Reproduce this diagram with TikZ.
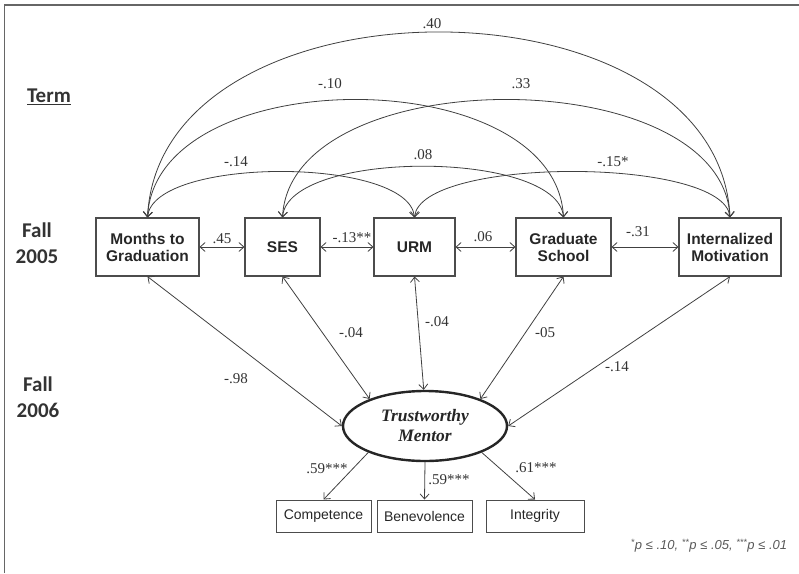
\documentclass[tikz,border=0pt]{standalone}
\usepackage{fontspec}
\setmainfont{Liberation Serif}
\newfontfamily\arialfont{Liberation Sans}
\newfontfamily\calibrifont{Carlito}
\usepackage{tikz}
\usetikzlibrary{shapes.geometric,arrows.meta}

\begin{document}
\begin{tikzpicture}[x=1pt,y=-1pt,>={Straight Barb[length=5pt,width=9pt]},
    var/.style={draw=black!70,line width=1.1pt,minimum height=58pt,inner sep=0pt,align=center,
      font=\arialfont\bfseries\fontsize{15.5}{17}\selectfont,text=black!85},
    ind/.style={draw=black!70,line width=1pt,minimum height=32pt,inner sep=0pt,
      font=\arialfont\fontsize{14}{16}\selectfont,text=black!85},
    coef/.style={inner sep=0pt,font=\fontsize{15}{17}\selectfont,text=black!80},
    term/.style={align=center,font=\calibrifont\bfseries\fontsize{21}{25.5}\selectfont,text=black!80},
    cov/.style={draw=black!75,line width=0.8pt,<->},
    load/.style={draw=black!75,line width=0.8pt,->}]
    \useasboundingbox (0,0) rectangle (799,573);
    \draw[black!60,line width=1.5pt] (4.5,573) -- (4.5,5) -- (799,5);

    % terms
    \node[term] (term) at (49,97) {\underline{Term}};
    \node[term] (fall5) at (37,243) {Fall\\2005};
    \node[term] (fall6) at (38,397) {Fall\\2006};

    % observed variables, fall 2005
    \node[var,minimum width=103pt] (mg) at (147.5,247) {Months to\\Graduation};
    \node[var,minimum width=75pt] (ses) at (282.5,247) {SES};
    \node[var,minimum width=81pt] (urm) at (414.5,247) {URM};
    \node[var,minimum width=95pt] (gs) at (563.5,247) {Graduate\\School};
    \node[var,minimum width=102pt] (im) at (730,247) {Internalized\\Motivation};

    % latent factor and indicators
    \node[ellipse,draw=black!85,line width=2.4pt,minimum width=164pt,minimum height=70pt,inner sep=0pt,
      align=center,font=\bfseries\itshape\fontsize{17.5}{20}\selectfont,text=black!85] (tm) at (425,426) {Trustworthy\\Mentor};
    \node[ind,minimum width=95pt] (comp) at (323.5,516) {Competence};
    \node[ind,minimum width=95pt] (benev) at (424.5,516) {Benevolence};
    \node[ind,minimum width=98pt] (integ) at (535,516) {Integrity};

    % covariances
    \draw[cov] (mg.north) .. controls +(12,-247) and +(-12,-247) .. (im.north);
    \draw[cov] (mg.north) .. controls +(8,-157) and +(-8,-157) .. (gs.north);
    \draw[cov] (ses.north) .. controls +(8,-157) and +(-8,-157) .. (im.north);
    \draw[cov] (mg.north) .. controls +(6,-61) and +(-6,-61) .. (urm.north);
    \draw[cov] (ses.north) .. controls +(6,-68) and +(-6,-68) .. (gs.north);
    \draw[cov] (urm.north) .. controls +(6,-61) and +(-6,-61) .. (im.north);
    \foreach \a/\b in {mg/ses,ses/urm,urm/gs,gs/im}
    \draw[cov] (\a.east) -- (\b.west);

    % paths to the factor
    \draw[cov] (mg.south) -- (tm.west);
    \draw[cov] (ses.south) -- (tm.154);
    \draw[cov] (urm.south) -- (tm.92);
    \draw[cov] (gs.south) -- (tm.26);
    \draw[cov] (im.south) -- (tm.east);
    \draw[load] (tm.205) -- (comp.north);
    \draw[load] (tm.south) -- (benev.north);
    \draw[load] (tm.-25) -- (integ.north);

    % coefficients
    \node[coef] (c40) at (432,24) {.40};
    \node[coef] (c10) at (330,84) {-.10};
    \node[coef] (c33) at (521,84) {.33};
    \node[coef] (c14a) at (236,162) {-.14};
    \node[coef] (c08) at (423,155) {.08};
    \node[coef] (c15) at (613,162) {-.15*};
    \node[coef] (c45) at (222,239) {.45};
    \node[coef] (c13) at (352,238) {-.13**};
    \node[coef] (c06) at (483,237) {.06};
    \node[coef] (c31) at (638,232) {-.31};
    \node[coef] (c98) at (236,379) {-.98};
    \node[coef] (c04a) at (351,333) {-.04};
    \node[coef] (c04b) at (437,322) {-.04};
    \node[coef] (c05) at (545,333) {-05};
    \node[coef] (c14b) at (617,367) {-.14};
    \node[coef] (c59a) at (327,469) {.59***};
    \node[coef] (c59b) at (449,480) {.59***};
    \node[coef] (c61) at (536,468) {.61***};

    \node[font=\arialfont\itshape\fontsize{13}{15}\selectfont,text=black!65] (note) at (709,546)
      {\textsuperscript{*}p ≤ .10, \textsuperscript{**}p ≤ .05, \textsuperscript{***}p ≤ .01};
  \end{tikzpicture}
\end{document}
